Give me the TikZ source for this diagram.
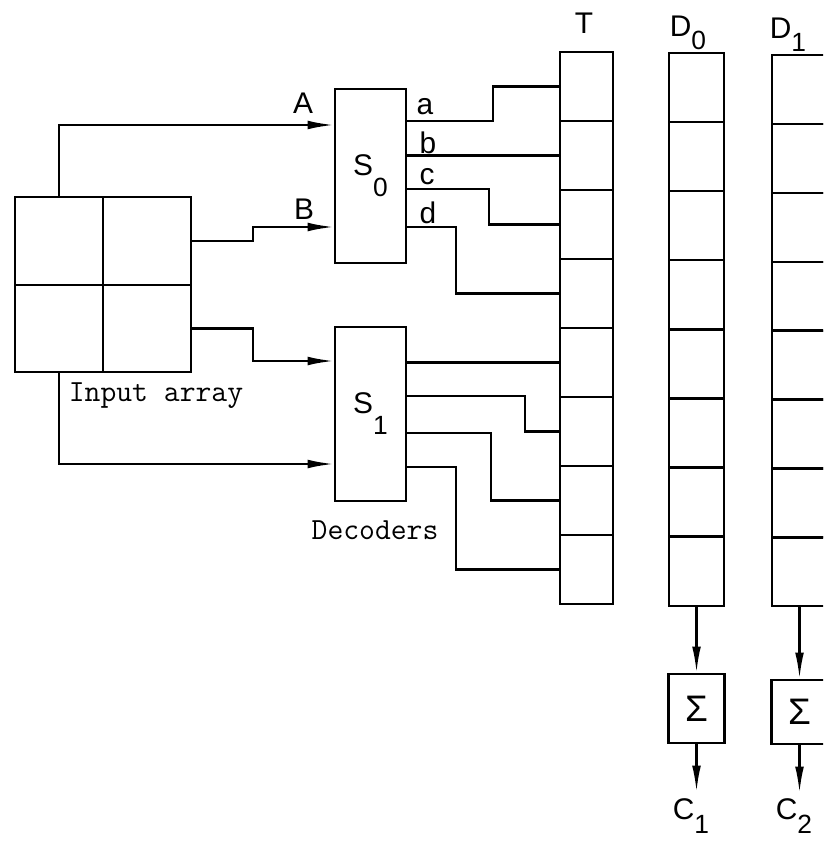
\documentclass[tikz,border=0pt]{standalone}
\usepackage{fontspec}
\setsansfont{Liberation Sans}
\usepackage{tikz}
\usetikzlibrary{arrows.meta, positioning}

\newcommand{\idx}[2][0.45em]{\raisebox{-#1}{\fontsize{15}{17}\selectfont#2}}

\begin{document}
\begin{tikzpicture}[x=0.02cm, y=-0.02cm, line width=1.3pt,
    cell/.style={rectangle, draw=black, minimum width=1.76cm, minimum height=1.75cm, inner sep=0pt},
    decoder/.style={rectangle, draw=black, minimum width=1.42cm, minimum height=3.48cm, inner sep=0pt, font=\sffamily\fontsize{17}{20}\selectfont},
    slot/.style={rectangle, draw=black, minimum width=1.06cm, minimum height=1.38cm, inner sep=0pt},
    summer/.style={rectangle, draw=black, minimum width=1.12cm, minimum height=1.38cm, inner sep=0pt, font=\sffamily\fontsize{21}{24}\selectfont},
    lbl/.style={font=\sffamily\fontsize{17}{20}\selectfont, inner sep=0pt},
    txt/.style={font=\ttfamily\fontsize{17.5}{20}\selectfont, inner sep=0pt},
    wire/.style={line width=1.3pt},
    arrow/.style={wire, -{Latex[length=15pt, width=5pt]}}
]
\useasboundingbox (0,0) rectangle (823,844);
\clip (0,0) rectangle (823,844);

% input array
\node[cell] (arr1) at (59,241) {};
\node[cell] (arr2) at (147,241) {};
\node[cell] (arr3) at (59,328.5) {};
\node[cell] (arr4) at (147,328.5) {};
\node[txt] (inlbl) at (156,396) {Input array};

% decoders
\node[decoder] (s0) at (370.5,176) {S\idx[0.7em]{0}};
\node[decoder] (s1) at (370.5,414) {S\idx[0.7em]{1}};
\node[txt] (declbl) at (375,530) {Decoders};

% registers T, D0, D1
\foreach \i in {1,...,8} {
    \node[slot] (t\i) at (586.5,{17.5+69*\i}) {};
    \node[slot, minimum width=1.1cm] (da\i) at (696.5,{18.4+69.1*\i}) {};
    \node[slot, minimum width=1.1cm] (db\i) at (799.5,{20.6+68.9*\i}) {};
}
\node[lbl] (tlbl) at (584,23) {T};
\node[lbl] (d0lbl) at (688,33) {D\idx{0}};
\node[lbl] (d1lbl) at (788,35) {D\idx{1}};

% inputs to decoders
\draw[arrow] (arr1.north) |- (s0.west |- 0,125);
\draw[arrow] (arr2.east) -- ++(61,0) |- (s0.west |- 0,227);
\draw[arrow] (arr4.east) -- ++(61,0) |- (s1.west |- 0,361);
\draw[arrow] (arr3.south) |- (s1.west |- 0,464);
\node[lbl] (albl) at (303,103) {A};
\node[lbl] (blbl) at (304,209) {B};

% S0 outputs
\draw[wire] (s0.east |- 0,121) -- ++(86,0) |- (t1.west);
\draw[wire] (s0.east |- t2.west) -- (t2.west);
\draw[wire] (s0.east |- 0,189) -- ++(82,0) |- (t3.west);
\draw[wire] (s0.east |- 0,227) -- ++(49,0) |- (t4.west);
\node[lbl] (alow) at (425,107) {a};
\node[lbl] (blow) at (428,143) {b};
\node[lbl] (clow) at (427,177) {c};
\node[lbl] (dlow) at (428,213) {d};

% S1 outputs
\draw[wire] (s1.east |- t5.west) -- (t5.west);
\draw[wire] (s1.east |- 0,396) -- ++(118,0) |- (t6.west);
\draw[wire] (s1.east |- 0,433) -- ++(84,0) |- (t7.west);
\draw[wire] (s1.east |- 0,467) -- ++(49,0) |- (t8.west);

% summers
\node[summer] (sum1) at (696.5,708.5) {Σ};
\node[summer, minimum height=1.28cm] (sum2) at (799.5,712) {Σ};
\draw[arrow] (da8.south) -- (sum1.north);
\draw[arrow] (db8.south) -- (sum2.north);
\coordinate (out1) at (696.5,792);
\coordinate (out2) at (799.5,793);
\draw[arrow] (sum1.south) -- (out1);
\draw[arrow] (sum2.south) -- (out2);
\node[lbl] (c1lbl) at (691,816) {C\idx{1}};
\node[lbl] (c2lbl) at (794,816) {C\idx{2}};
\end{tikzpicture}
\end{document}
